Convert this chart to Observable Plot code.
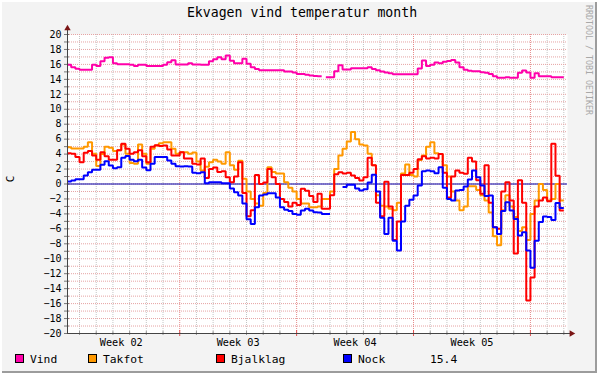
<!DOCTYPE html>
<html>
<head>
<meta charset="utf-8">
<script src="https://cdn.jsdelivr.net/npm/d3@7"></script>
<script src="https://cdn.jsdelivr.net/npm/@observablehq/plot@0.6"></script>
<style>
  html, body { margin: 0; padding: 0; background: #f3f3f3; }
  #chart { position: relative; width: 597px; height: 373px; background: #f3f3f3; overflow: hidden;
           box-shadow: inset 2px 2px 0 #ffffff, inset -2px -2px 0 #9c9c9c; }
  #chart svg { position: absolute; left: 0; top: 0; }
</style>
</head>
<body>
<div id="chart"></div>
<script>
// ---------------- DATA ----------------
const chartTitle = "Ekvagen vind temperatur month";
const yAxisLabel = "C";
const watermark = "RRDTOOL / TOBI OETIKER";
const seriesNames = ["Vind", "Takfot", "Bjalklag", "Nock"];
const seriesColors = ["#ff00aa", "#ff9900", "#ff0000", "#0000ff"];
const legendValue = "15.4";
const weekLabels = ["Week 02", "Week 03", "Week 04", "Week 05"];
const yTickLabels = [-20,-18,-16,-14,-12,-10,-8,-6,-4,-2,0,2,4,6,8,10,12,14,16,18,20];

// one value every 0.25 day, starting 0.25 day after Monday of week 02 (null = no data)
const vind = [15.95,15.63,15.41,15.3,15.3,15.3,15.95,15.8,16.43,16.88,
  16.97,16.16,16.03,16.03,16.03,15.95,15.8,15.95,15.95,15.8,
  15.8,15.8,15.8,15.95,16.3,16.57,16.0,16.0,16.0,16.16,
  16.0,16.0,15.95,15.95,16.43,16.7,16.97,16.7,17.2,16.5,
  16.16,16.16,16.75,16.1,15.63,15.4,15.23,15.23,15.23,15.23,
  15.23,15.23,15.05,15.05,14.9,14.7,14.7,14.6,14.5,14.45,
  14.42,null,14.29,14.29,15.1,15.9,15.32,15.32,15.5,15.5,
  15.5,15.5,15.63,15.4,15.23,15.05,14.9,14.8,14.69,14.69,
  14.69,14.69,14.69,14.69,15.45,16.52,15.8,15.95,16.25,16.16,
  16.34,16.47,16.6,16.25,15.63,15.27,15.14,15.1,15.1,14.96,
  14.87,14.7,14.42,14.2,14.2,14.29,14.2,14.2,14.87,15.18,
  14.9,14.2,14.82,14.42,14.42,14.42,14.29,14.29,14.29];

const takfot = [4.93,4.75,4.75,4.75,5.0,5.6,4.04,2.4,4.0,5.0,
  4.85,4.4,4.5,5.3,4.04,2.8,2.7,5.3,4.04,2.7,
  4.7,5.15,5.45,5.6,5.6,4.7,4.04,4.26,4.26,4.04,
  4.2,3.0,1.8,2.3,2.9,3.24,3.0,2.7,4.26,2.5,
  1.9,3.1,0.7,-1.0,-2.0,-2.6,-2.9,-1.2,2.25,1.6,
  1.4,1.4,0.25,-0.5,-1.0,-2.0,-2.6,-2.6,-3.1,-3.1,
  -3.0,-2.0,-2.0,-1.0,2.0,3.8,4.7,5.7,6.94,6.0,
  5.3,5.15,4.04,2.5,-1.5,-2.9,-3.0,-3.3,-3.5,-2.5,
  1.4,2.6,1.2,1.0,3.2,3.8,5.0,5.6,4.1,4.0,
  2.5,1.0,-1.0,-2.2,-3.5,-3.0,-0.3,-0.3,-0.8,-1.5,
  -2.2,-3.8,-7.0,-8.2,-3.5,-1.5,-3.0,-4.4,-6.3,-5.8,
  -7.5,-4.0,-2.2,0.0,-0.8,-2.2,-2.0,0.0,-2.2];

const bjalklag = [4.1,4.04,3.6,2.9,4.17,4.4,3.8,3.24,4.26,3.7,
  3.24,3.24,4.5,5.38,4.7,4.04,4.26,4.5,3.7,2.9,
  5.0,5.2,5.1,5.15,4.6,3.8,3.8,4.26,3.4,3.4,
  2.7,2.6,3.4,0.8,2.0,2.2,1.6,1.7,0.9,0.25,
  1.0,2.9,-1.2,-4.3,-3.5,1.2,0.0,0.2,2.0,0.9,
  0.0,-2.0,-2.4,-3.0,-2.5,-2.8,-0.65,-0.9,-1.6,-2.4,
  -1.3,-3.3,-3.3,-1.5,1.3,1.58,1.4,1.5,1.14,0.8,
  0.47,0.9,3.5,2.5,-2.5,-4.3,0.3,-3.0,-7.5,-5.0,
  1.2,1.2,1.5,2.0,3.3,3.7,3.4,3.5,3.4,4.0,
  1.5,-1.8,1.0,1.8,1.5,1.36,3.5,3.0,0.5,-1.3,
  2.5,-2.5,-5.8,-6.0,-1.0,0.25,-2.2,-9.3,0.5,-2.5,
  -15.6,-12.5,-3.0,-2.2,-1.8,-2.3,5.4,1.1,-3.55];

const nock = [0.33,0.47,0.65,0.65,1.14,1.58,1.9,1.9,2.57,3.06,
  2.48,2.12,2.25,3.5,3.73,3.24,3.06,3.24,2.2,1.85,
  2.7,3.6,3.6,3.6,3.15,2.7,2.39,2.34,2.39,2.34,
  1.5,1.45,1.58,0.1,0.25,0.25,0.25,0.1,0.1,-0.6,
  -1.1,-1.55,-2.6,-4.7,-5.35,-3.1,-1.55,-1.4,-1.23,-1.23,
  -1.8,-3.1,-3.46,-3.6,-4.0,-4.1,-3.55,-3.3,-3.55,-3.77,
  -3.8,-4.0,-4.0,null,null,null,-0.4,-0.1,-0.1,-0.6,
  -0.87,-0.7,0.2,1.23,-1.0,-4.5,-6.7,-4.5,-7.6,-8.9,
  -5.0,-2.9,-2.1,-1.55,-0.2,1.7,1.8,1.7,1.45,2.25,
  -0.5,-2.0,-2.2,-0.87,-0.8,-0.35,0.6,1.8,0.9,-0.2,
  -1.6,-1.55,-5.8,-6.7,-3.6,-2.43,-3.55,-4.67,-6.9,-6.45,
  -8.9,-11.2,-7.6,-5.1,-4.35,-4.4,-4.8,-2.55,-3.2];

// ---------------- LAYOUT ----------------
const seriesValues = [vind, takfot, bjalklag, nock];
const firstDay = 0.25, dayStep = 0.25;
const xStart = 0.28, xEnd = 30.22;          // visible span in days
const pxDay = (xEnd - xStart) / 500;        // days per pixel
const pxVal = 40 / 299;                     // degrees per pixel
const font = "DejaVu Sans Mono";

function stepPoints(vals, name) {
  const out = [];
  vals.forEach((v, i) => {
    const t = firstDay + i * dayStep;
    if (v == null) { out.push({t, v: NaN, name}); return; }
    out.push({t, v, name}, {t: t + dayStep, v, name});
  });
  return out;
}

const dayGrid = d3.range(1, 31).filter(d => d % 7 !== 0);
const weekGrid = d3.range(7, 31, 7);
const yGrid = d3.range(-20, 21);

const lineMarks = seriesValues.map((vals, i) =>
  Plot.line(stepPoints(vals, seriesNames[i]), {
    x: "t", y: "v", stroke: seriesColors[i], strokeWidth: 2,
    strokeLinejoin: "miter", strokeLinecap: "butt", clip: true
  })
);

const plot = Plot.plot({
  width: 597, height: 373,
  marginLeft: 67, marginRight: 30, marginTop: 34, marginBottom: 40,
  x: {domain: [xStart, xEnd], axis: null},
  y: {domain: [-20, 20], axis: null},
  style: {background: "transparent", fontFamily: font, fontSize: "10px", color: "#000", overflow: "visible"},
  marks: [
    Plot.frame({fill: "#ffffff", stroke: "none"}),
    Plot.ruleX(dayGrid, {stroke: "#c4c4c4", strokeDasharray: "1,1"}),
    Plot.ruleY(yGrid, {stroke: "#e6a3a3", strokeDasharray: "1,1"}),
    Plot.ruleX(weekGrid, {stroke: "#e68a8a", strokeDasharray: "1,1"}),
    // axis ticks
    Plot.ruleY(yGrid, {x1: xStart - 3 * pxDay, x2: xStart + 2 * pxDay, stroke: "#777"}),
    Plot.ruleX(dayGrid, {y1: -20 - 2 * pxVal, y2: -20 + 2 * pxVal, stroke: "#999"}),
    Plot.ruleX(weekGrid, {y1: -20 - 3 * pxVal, y2: -20 + 3 * pxVal, stroke: "#e05050"}),
    // zero line
    Plot.ruleY([0], {x1: xStart, x2: xEnd, stroke: "#0000aa"}),
    ...lineMarks,
    // axes
    Plot.ruleX([xStart], {y1: -20, y2: 20 + 6 * pxVal, stroke: "#444"}),
    Plot.ruleY([-20], {x1: xStart, x2: xEnd + 3 * pxDay, stroke: "#444"}),
    Plot.dot([0], {x: () => xStart, y: () => 20 + 6 * pxVal, symbol: "triangle", r: 2.4, fill: "#7a1414", stroke: "none"}),
    Plot.dot([0], {x: () => xEnd + 4 * pxDay, y: () => -20, symbol: "triangle", r: 2.4, rotate: 90, fill: "#7a1414", stroke: "none"}),
    Plot.axisY(yTickLabels, {tickSize: 0, tickPadding: 6, label: null, fontSize: 10, fontFamily: font}),
    Plot.text(weekLabels, {x: (d, i) => 3.5 + 7 * i, y: () => -20, dy: 9, text: d => d,
      fontSize: 10.2, fontFamily: font, fill: "#000", textAnchor: "middle"})
  ]
});

document.getElementById("chart").appendChild(plot);

// titles, legend and side labels as real SVG text
const svg = d3.select(plot);
svg.append("text").attr("x", 302).attr("y", 17).attr("text-anchor", "middle")
  .attr("font-family", font).attr("font-size", 13.2).attr("fill", "#000").text(chartTitle);

svg.append("text").attr("transform", "translate(14,179) rotate(-90)").attr("text-anchor", "middle")
  .attr("font-family", font).attr("font-size", 11).attr("fill", "#000").text(yAxisLabel);

svg.append("text").attr("transform", "translate(586,5) rotate(90)").attr("text-anchor", "start")
  .attr("font-family", font).attr("font-size", 8.3).attr("fill", "#a8a8a8").text(watermark);

const legendLeft = [15, 88, 216, 343];
seriesNames.forEach((name, i) => {
  svg.append("rect").attr("x", legendLeft[i] + 0.5).attr("y", 354.5).attr("width", 8).attr("height", 8)
    .attr("fill", seriesColors[i]).attr("stroke", "#000").attr("stroke-width", 1);
  svg.append("text").attr("x", legendLeft[i] + 15).attr("y", 363).attr("text-anchor", "start")
    .attr("font-family", font).attr("font-size", 11.3).attr("fill", "#000").text(name);
});
svg.append("text").attr("x", 430).attr("y", 363).attr("text-anchor", "start")
  .attr("font-family", font).attr("font-size", 11.3).attr("fill", "#000").text(legendValue);
</script>
</body>
</html>
